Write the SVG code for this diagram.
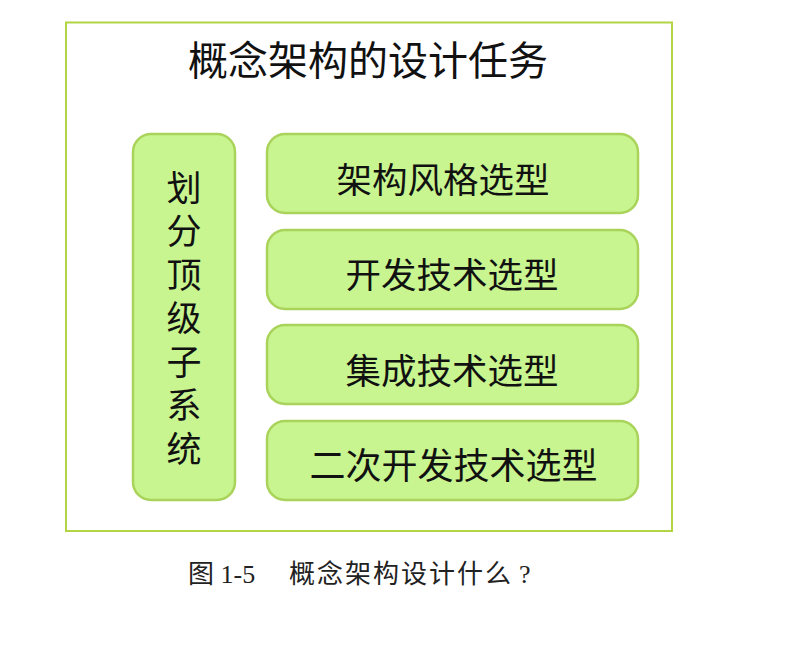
<svg xmlns="http://www.w3.org/2000/svg" width="808" height="648" viewBox="0 0 808 648">
<style>
.box{fill:#c8f58f;stroke:#a9d35a;stroke-width:2.5}
.t{font-family:"Noto Sans CJK SC","Noto Sans",sans-serif;fill:#111;text-anchor:middle;dominant-baseline:central}
.bt{font-size:35.5px}
.cap{font-family:"Liberation Serif","Noto Sans CJK SC",serif;font-size:26px;fill:#222}
</style>
<rect width="808" height="648" fill="#fff"/>
<g id="frame">
<rect x="66" y="22.5" width="606" height="508.5" fill="#fff" stroke="#b3d445" stroke-width="2"/>
<text class="t" x="368" y="58" font-size="40">概念架构的设计任务</text>
</g>
<g id="left">
<rect class="box" x="133" y="134" width="102" height="366" rx="18"/>
<text class="t" x="184" y="322" font-size="35" writing-mode="vertical-rl" letter-spacing="8.5">划分顶级子系统</text>
</g>
<g id="n1">
<rect class="box" x="267" y="134" width="371" height="79" rx="18"/>
<text class="t bt" x="443" y="177">架构风格选型</text>
</g>
<g id="n2">
<rect class="box" x="267" y="230" width="371" height="79" rx="18"/>
<text class="t bt" x="452" y="272">开发技术选型</text>
</g>
<g id="n3">
<rect class="box" x="267" y="325" width="371" height="79" rx="18"/>
<text class="t bt" x="452" y="368">集成技术选型</text>
</g>
<g id="n4">
<rect class="box" x="267" y="421" width="371" height="79" rx="18"/>
<text class="t" x="453.5" y="463" font-size="36">二次开发技术选型</text>
</g>
<g id="connectors"></g>
<text class="cap" x="188" y="583">图 1-5<tspan x="289" letter-spacing="2">概念架构设计什么</tspan><tspan x="519">?</tspan></text>
</svg>
